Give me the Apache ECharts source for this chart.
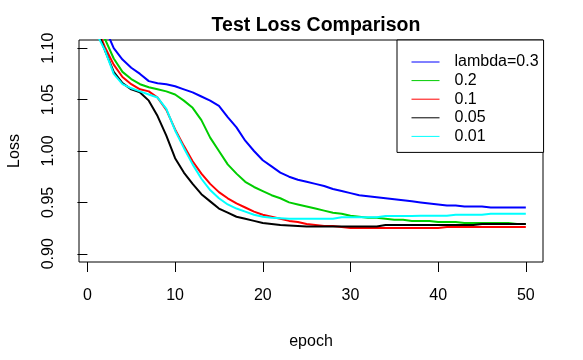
<!DOCTYPE html>
<html>
<head>
<meta charset="utf-8">
<script src="https://cdn.jsdelivr.net/npm/echarts@6/dist/echarts.min.js"></script>
<style>html,body{margin:0;padding:0;background:#fff}#c{width:583px;height:360px}</style>
</head>
<body>
<div id="c"></div>
<script>
var epochs = [1,2,3,4,5,6,7,8,9,10,11,12,13,14,15,16,17,18,19,20,21,22,23,24,25,26,27,28,29,30,31,32,33,34,35,36,37,38,39,40,41,42,43,44,45,46,47,48,49,50];
var seriesNames = ['lambda=0.3','0.2','0.1','0.05','0.01'];
var seriesColors = ['#0000FF','#00CD00','#FF0000','#000000','#00FFFF'];
var loss03 = [1.150,1.120,1.100,1.089,1.081,1.075,1.068,1.066,1.065,1.063,1.060,1.057,1.053,1.049,1.044,1.033,1.023,1.010,1.000,0.991,0.985,0.979,0.975,0.972,0.970,0.968,0.966,0.963,0.961,0.959,0.957,0.956,0.955,0.954,0.953,0.952,0.951,0.950,0.949,0.948,0.947,0.947,0.946,0.946,0.946,0.945,0.945,0.945,0.945,0.945];
var loss02 = [1.135,1.109,1.090,1.077,1.070,1.065,1.062,1.060,1.058,1.055,1.049,1.042,1.030,1.013,1.000,0.987,0.978,0.970,0.965,0.961,0.957,0.954,0.950,0.948,0.946,0.944,0.942,0.940,0.939,0.937,0.936,0.935,0.935,0.934,0.933,0.933,0.932,0.932,0.932,0.931,0.931,0.931,0.930,0.930,0.930,0.930,0.930,0.930,0.929,0.929];
var loss01 = [1.122,1.101,1.084,1.072,1.065,1.060,1.058,1.052,1.040,1.021,1.005,0.990,0.978,0.968,0.960,0.954,0.949,0.945,0.941,0.938,0.936,0.934,0.932,0.931,0.929,0.928,0.927,0.927,0.926,0.925,0.925,0.925,0.925,0.925,0.925,0.925,0.925,0.925,0.925,0.925,0.926,0.926,0.926,0.926,0.926,0.926,0.926,0.926,0.926,0.926];
var loss005 = [1.120,1.098,1.077,1.066,1.060,1.057,1.049,1.034,1.015,0.993,0.979,0.968,0.958,0.951,0.944,0.940,0.936,0.934,0.932,0.930,0.929,0.928,0.9275,0.927,0.9265,0.9265,0.9265,0.9265,0.9265,0.9265,0.9265,0.9265,0.9265,0.928,0.928,0.928,0.928,0.928,0.928,0.928,0.928,0.928,0.928,0.928,0.929,0.929,0.929,0.929,0.929,0.929];
var loss001 = [1.115,1.098,1.075,1.065,1.061,1.058,1.055,1.052,1.041,1.020,1.003,0.987,0.973,0.962,0.954,0.948,0.944,0.941,0.938,0.936,0.935,0.9345,0.934,0.934,0.934,0.934,0.934,0.934,0.9355,0.9355,0.9355,0.9355,0.9355,0.9367,0.9367,0.9367,0.9367,0.937,0.937,0.937,0.937,0.938,0.938,0.938,0.938,0.939,0.939,0.939,0.939,0.939];
var xTicks = [0,10,20,30,40,50];
var yTicks = [0.90,0.95,1.00,1.05,1.10];

var allLoss = [loss03, loss02, loss01, loss005, loss001];
var FONT = 'Liberation Sans, Arial, sans-serif';

var series = seriesNames.map(function(name, i){
  return {
    name: name,
    type: 'line',
    data: epochs.map(function(e, j){ return [e, allLoss[i][j]]; }),
    symbol: 'none',
    showSymbol: false,
    lineStyle: { color: seriesColors[i], width: 2 },
    itemStyle: { color: seriesColors[i] },
    clip: true,
    animation: false,
    z: 2 + i
  };
});

var chart = echarts.init(document.getElementById('c'), null, {renderer: 'canvas'});
chart.setOption({
  animation: false,
  backgroundColor: '#ffffff',
  textStyle: { fontFamily: FONT },
  title: {
    text: 'Test Loss Comparison',
    left: 311, top: 11,
    textAlign: 'center',
    textStyle: { fontFamily: FONT, fontSize: 19.5, fontWeight: 'bold', color: '#000' }
  },
  grid: {
    left: 79, right: 40, top: 40, bottom: 98,
    show: true, borderColor: '#000', borderWidth: 1, backgroundColor: 'transparent',
    containLabel: false,
    outerBoundsMode: 'none'
  },
  legend: {
    orient: 'vertical',
    left: 397, top: 40,
    padding: [14, 5, 8, 14],
    itemWidth: 28, itemHeight: 14, itemGap: 2.6,
    borderColor: '#000', borderWidth: 1, borderRadius: 0,
    backgroundColor: '#fff',
    lineStyle: { width: 1 },
    itemStyle: { opacity: 0 },
    textStyle: { fontFamily: FONT, fontSize: 16, color: '#000', padding: [0,0,0,10] },
    data: seriesNames
  },
  xAxis: {
    type: 'value',
    min: -0.96, max: 51.96,
    name: 'epoch',
    nameLocation: 'middle',
    nameGap: 72,
    nameTextStyle: { fontFamily: FONT, fontSize: 16, color: '#000' },
    axisLine: { show: false },
    axisTick: { show: true, inside: false, length: 10, customValues: xTicks, lineStyle: { color: '#000', width: 1 } },
    axisLabel: { customValues: xTicks, margin: 26, fontFamily: FONT, fontSize: 16, color: '#000', lineHeight: 16 },
    splitLine: { show: false }
  },
  yAxis: {
    type: 'value',
    min: 0.892, max: 1.108,
    name: 'Loss',
    nameLocation: 'middle',
    nameGap: 56,
    nameRotate: 90,
    nameTextStyle: { fontFamily: FONT, fontSize: 16, color: '#000' },
    axisLine: { show: false },
    axisTick: { show: true, inside: false, length: 10, customValues: yTicks, lineStyle: { color: '#000', width: 1 } },
    axisLabel: { customValues: yTicks, rotate: 90, margin: 22, fontFamily: FONT, fontSize: 16, color: '#000', lineHeight: 16,
      formatter: function(v){ return v.toFixed(2); } },
    splitLine: { show: false }
  },
  series: series
});
</script>
</body>
</html>
